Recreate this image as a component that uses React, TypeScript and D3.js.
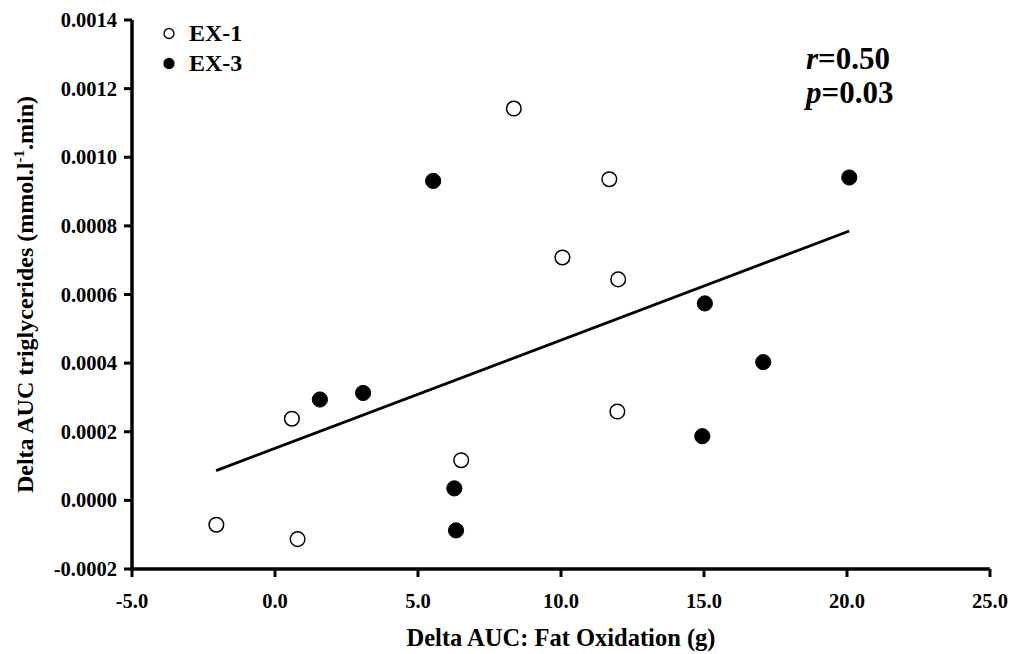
import React from "react";
import * as d3 from "d3";

const ex1X = [-2.05, 0.79, 0.59, 6.51, 8.35, 10.05, 11.69, 12.0, 11.97];
const ex1Y = [-0.000071, -0.000113, 0.000238, 0.000117, 0.001142, 0.000708, 0.000936, 0.000644, 0.000259];
const ex3X = [1.57, 3.08, 5.53, 6.27, 6.33, 15.03, 14.94, 17.07, 20.08];
const ex3Y = [0.000294, 0.000313, 0.000931, 0.000035, -0.0000875, 0.000574, 0.000187, 0.000403, 0.000941];
const fitX = [-2.06, 20.08];
const fitY = [0.0000866, 0.000785];
const xTicks = [-5, 0, 5, 10, 15, 20, 25];
const yTicks = [-0.0002, 0, 0.0002, 0.0004, 0.0006, 0.0008, 0.001, 0.0012, 0.0014];
const legendLabels = ["EX-1", "EX-3"];
const statLabels = [["r", "=0.50"], ["p", "=0.03"]];

const FONT = '"Liberation Serif", "Times New Roman", Times, serif';

export default function App() {
  const x = d3.scaleLinear().domain([-5, 25]).range([132, 990]);
  const y = d3.scaleLinear().domain([-0.0002, 0.0014]).range([569, 20]);
  const fx = (v: number) => d3.format(".1f")(v).replace("\u2212", "-");
  const fy = (v: number) => d3.format(".4f")(v).replace("\u2212", "-");
  const line = d3.line<number>().x((d, i) => x(fitX[i])).y((d) => y(d));
  const [x0, x1] = x.range();
  const [y0, y1] = y.range();

  return (
    <svg
      width={1016}
      height={654}
      style={{ position: "absolute", left: 0, top: 0, background: "#fff" }}
      fontFamily={FONT}
      fontWeight="bold"
    >
      <rect width={1016} height={654} fill="#fff" />
      {/* regression line */}
      <path d={line(fitY) || ""} fill="none" stroke="#000" strokeWidth={2.8} />
      {/* axes */}
      <line x1={x0} x2={x1} y1={y0} y2={y0} stroke="#000" strokeWidth={3.5} />
      <line x1={x0} x2={x0} y1={y0 + 1.75} y2={y1} stroke="#000" strokeWidth={3.5} />
      {xTicks.map((t) => (
        <g key={"xt" + t}>
          <line x1={x(t)} x2={x(t)} y1={y0} y2={y0 + 8} stroke="#000" strokeWidth={3} />
          <text x={x(t)} y={608} textAnchor="middle" fontSize={20.5}>
            {fx(t)}
          </text>
        </g>
      ))}
      {yTicks.map((t) => (
        <g key={"yt" + t}>
          <line x1={x0 - 8} x2={x0} y1={y(t)} y2={y(t)} stroke="#000" strokeWidth={3} />
          <text x={117} y={y(t) + 7} textAnchor="end" fontSize={20.5}>
            {fy(t)}
          </text>
        </g>
      ))}
      {/* axis titles */}
      <text x={561} y={646} textAnchor="middle" fontSize={24.5}>
        Delta AUC: Fat Oxidation (g)
      </text>
      <text
        transform={`translate(33, ${(y0 + y1) / 2}) rotate(-90)`}
        textAnchor="middle"
        fontSize={24}
      >
        Delta AUC triglycerides (mmol.l
        <tspan fontSize={15} dy={-9}>-1</tspan>
        <tspan dy={9}>.min)</tspan>
      </text>
      {/* points */}
      {ex1X.map((v, i) => (
        <circle key={"a" + i} cx={x(v)} cy={y(ex1Y[i])} r={7.3} fill="#fff" stroke="#000" strokeWidth={1.5} />
      ))}
      {ex3X.map((v, i) => (
        <circle key={"b" + i} cx={x(v)} cy={y(ex3Y[i])} r={7.6} fill="#000" stroke="#000" strokeWidth={1} />
      ))}
      {/* legend */}
      {legendLabels.map((l, i) => (
        <g key={l}>
          <circle
            cx={169}
            cy={33.5 + i * 30}
            r={5}
            fill={i === 0 ? "#fff" : "#000"}
            stroke="#000"
            strokeWidth={1.3}
          />
          <text x={189} y={41 + i * 30} fontSize={24}>
            {l}
          </text>
        </g>
      ))}
      {/* stats */}
      {statLabels.map((s, i) => (
        <text key={s[0]} x={806} y={69 + i * 34} fontSize={31}>
          <tspan fontStyle="italic">{s[0]}</tspan>
          {s[1]}
        </text>
      ))}
    </svg>
  );
}
